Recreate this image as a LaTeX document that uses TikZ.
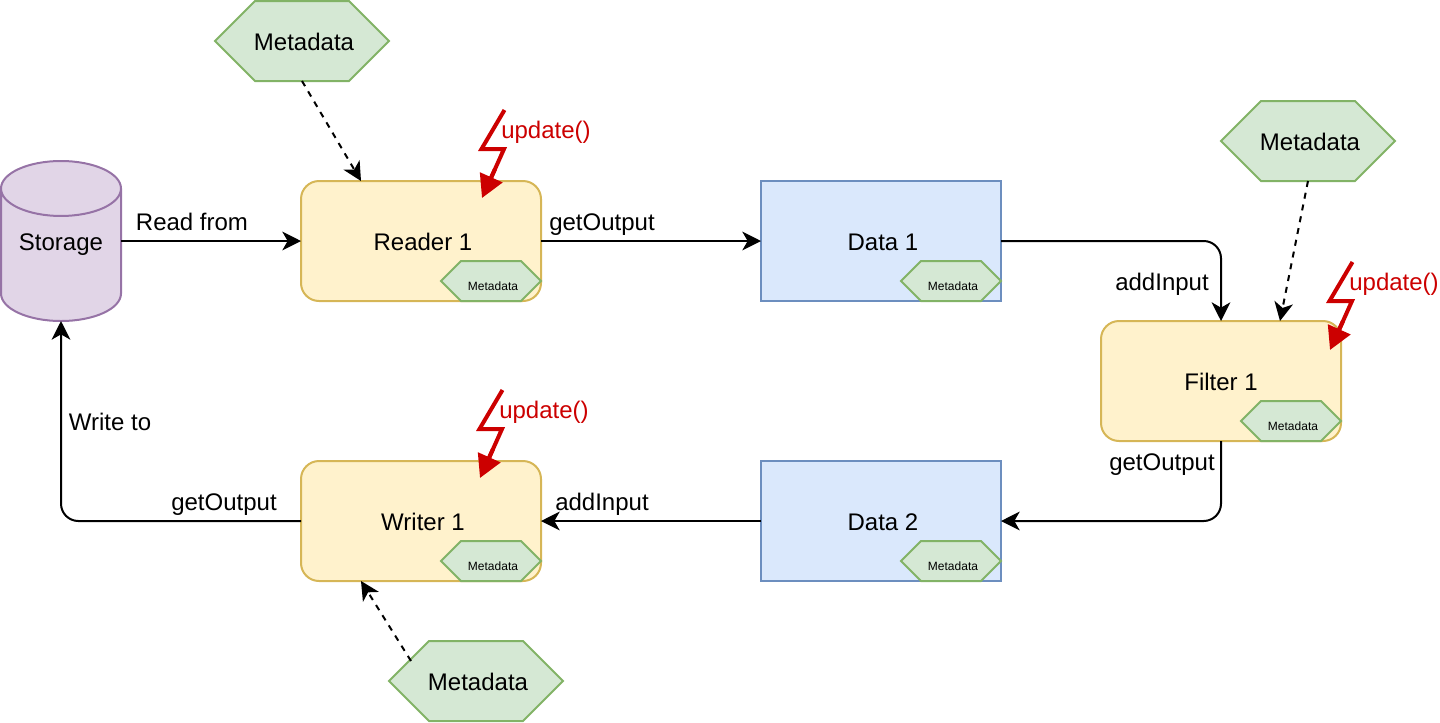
\documentclass[tikz,border=0pt]{standalone}
\usepackage{fontspec}
\setmainfont{Liberation Sans}
\usetikzlibrary{positioning, calc, arrows.meta, shapes.geometric, shapes.misc}
\definecolor{metafill}{HTML}{D5E8D4}
\definecolor{metaline}{HTML}{82B366}
\definecolor{procfill}{HTML}{FFF2CC}
\definecolor{procline}{HTML}{D6B656}
\definecolor{datafill}{HTML}{DAE8FC}
\definecolor{dataline}{HTML}{6C8EBF}
\definecolor{storefill}{HTML}{E1D5E7}
\definecolor{storeline}{HTML}{9673A6}
\definecolor{updatered}{HTML}{CC0000}
\newcommand{\metatext}[1]{\raisebox{-#1}[0pt][0pt]{Metadata}}

\begin{document}
\begin{tikzpicture}[
		x=0.75pt, y=-0.75pt,
		every node/.style={outer sep=0pt,inner sep=0pt,font=\fontsize{18}{22}\selectfont,text height=13pt,text depth=0pt},
		nudged/.style={execute at begin node=\hspace*{3pt}},
		proc/.style={draw=procline,fill=procfill,line width=1.5pt,rounded corners=13.5pt,minimum width=180pt,minimum height=90pt,text height=14.5pt},
		data/.style={draw=dataline,fill=datafill,line width=1.5pt,minimum width=180pt,minimum height=90pt,nudged,text height=14.5pt},
		meta/.style={chamfered rectangle,chamfered rectangle xsep=32.25pt,chamfered rectangle ysep=30pt,draw=metaline,fill=metafill,line width=1.5pt,minimum width=130.5pt,nudged,text height=0pt},
		minimeta/.style={chamfered rectangle,chamfered rectangle xsep=18.75pt,chamfered rectangle ysep=15pt,draw=metaline,fill=metafill,line width=1.5pt,minimum width=75pt,nudged,font=\fontsize{9}{11}\selectfont,text height=0pt},
		store/.style={cylinder,shape border rotate=90,shape aspect=0.654,anchor=shape center,draw=storeline,fill=storefill,line width=1.5pt,minimum width=90pt,minimum height=120pt,text height=14.5pt,text depth=21.5pt},
		wire/.style={line width=1.5pt,-{Stealth[length=14pt,width=14pt,inset=4pt]},rounded corners=13pt},
		dotwire/.style={wire,dash pattern=on 4.5pt off 4.5pt},
		bolt/.style={draw=updatered,line width=3pt,miter limit=10},
		boltend/.style={bolt,-{Triangle[length=17pt,width=18pt,fill=updatered]}},
		update/.style={text=updatered},
		]
		\useasboundingbox (0,0) rectangle (1440,722);

		\node[store] (storage) at (61,241) {Storage};
		\node[proc,nudged] (reader) at (421,241) {Reader 1};
		\node[data] (data1) at (881,241) {Data 1};
		\node[proc] (filter) at (1221,381) {Filter 1};
		\node[data] (data2) at (881,521) {Data 2};
		\node[proc,nudged] (writer) at (421,521) {Writer 1};

		\node[meta] (metaA) at (302,41) {\metatext{7pt}};
		\node[meta] (metaB) at (1308,141) {\metatext{7pt}};
		\node[meta] (metaC) at (476,681) {\metatext{7pt}};

		\node[minimeta] (miniA) at (491,281) {\metatext{7pt}};
		\node[minimeta] (miniB) at (951,281) {\metatext{7pt}};
		\node[minimeta] (miniC) at (1291,421) {\metatext{7pt}};
		\node[minimeta] (miniD) at (491,561) {\metatext{7pt}};
		\node[minimeta] (miniE) at (951,561) {\metatext{7pt}};

		\coordinate (readtop) at (361,181);
		\coordinate (filtertop) at (1280,321);
		\coordinate (writerbot) at (361,581);
		\coordinate (metaCedge) at (411,661);

		\draw[wire] (storage.east |- reader) -- (reader);
		\draw[wire] (reader) -- (data1);
		\draw[wire] (data1) -| (filter);
		\draw[wire] (filter) |- (data2);
		\draw[wire] (data2) -- (writer);
		\draw[wire] (writer) -| (storage.south);

		\draw[dotwire] (metaA.south) -- (readtop);
		\draw[dotwire] (metaB.south) -- (filtertop);
		\draw[dotwire] (metaCedge) -- (writerbot);

		\foreach \bx/\by/\n in {0/0/A, 848/152/B, -2/280/C} {
			\draw[bolt] ($(504.5,110)+(\bx,\by)$) -- ($(481.5,149)+(\bx,\by)$) -- ($(504,149)+(\bx,\by)$) -- ($(491,178)+(\bx,\by)$);
			\draw[boltend] ($(495,169)+(\bx,\by)$) -- ($(482,198)+(\bx,\by)$);
			\node[update] (update\n) at ($(546,130)+(\bx,\by)$) {update()};
		}

		\node (readfrom) at (192,222) {Read from};
		\node (getA) at (602,222) {getOutput};
		\node (addA) at (1162,282) {addInput};
		\node (getB) at (1162,462) {getOutput};
		\node (addB) at (602,502) {addInput};
		\node (getC) at (224,502) {getOutput};
		\node (writeto) at (110,422) {Write to};
\end{tikzpicture}
\end{document}
